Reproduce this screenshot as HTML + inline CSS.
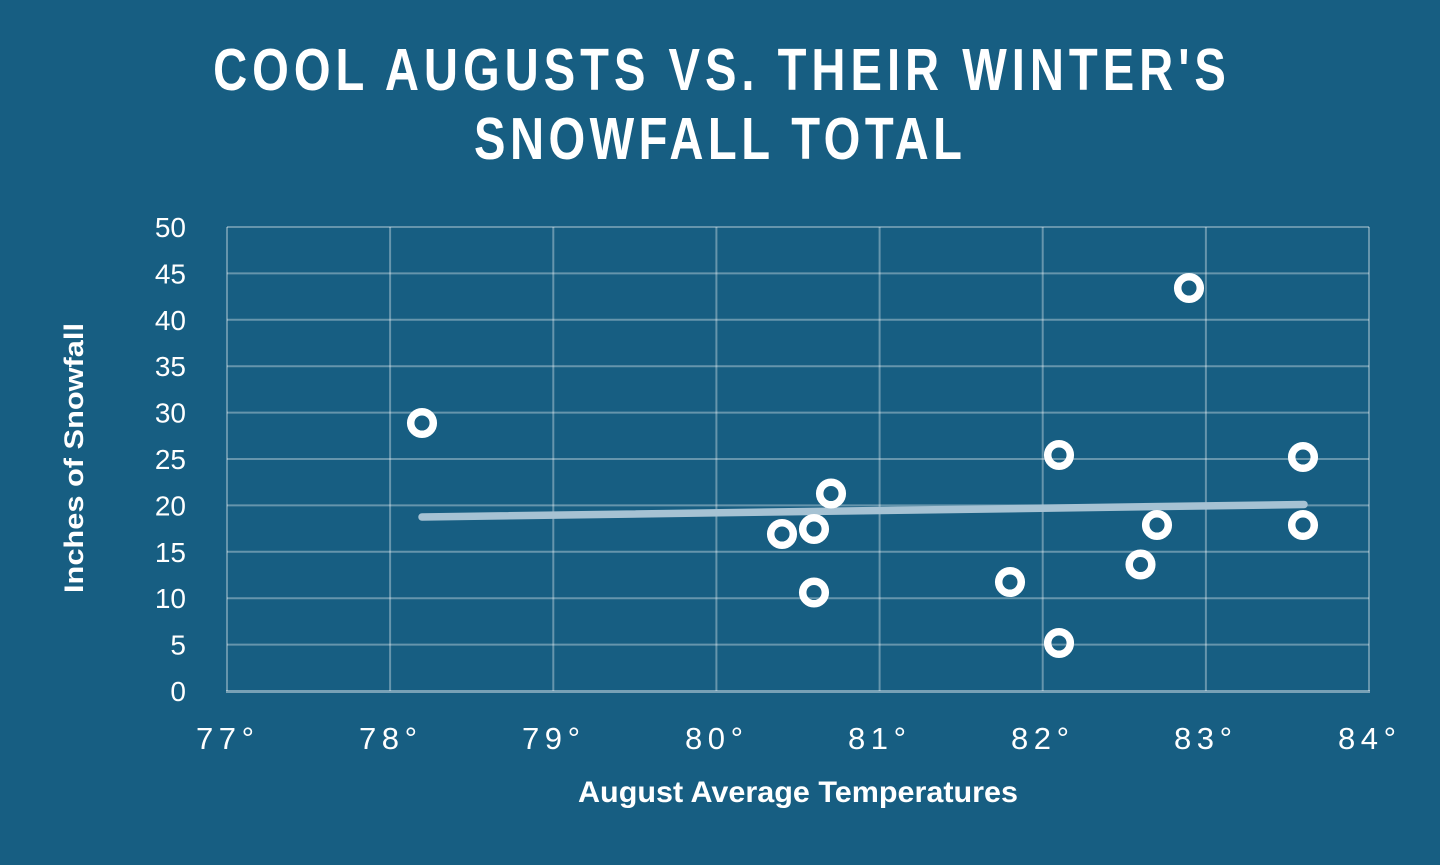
<!DOCTYPE html>
<html>
<head>
<meta charset="utf-8">
<style>
  html, body { margin: 0; padding: 0; background: #175e82; }
  body { width: 1440px; height: 865px; overflow: hidden; }
  svg { display: block; }
</style>
</head>
<body>
<svg width="1440" height="865" viewBox="0 0 1440 865" xmlns="http://www.w3.org/2000/svg">
  <rect x="0" y="0" width="1440" height="865" fill="#175e82"/>

  <!-- Title -->
  <g font-family="'Liberation Sans', Arial, sans-serif" font-weight="bold" fill="#ffffff" font-size="59" text-anchor="middle">
    <text transform="translate(719.5,90) scale(0.8,1)" x="0" y="0" textLength="1266" lengthAdjust="spacing">COOL AUGUSTS VS. THEIR WINTER'S</text>
    <text transform="translate(718,159) scale(0.8,1)" x="0" y="0" textLength="610" lengthAdjust="spacing">SNOWFALL TOTAL</text>
  </g>

  <!-- Gridlines -->
  <g stroke="#ffffff" stroke-opacity="0.34" stroke-width="2" fill="none">
    <line x1="227" y1="227" x2="1369" y2="227"/>
    <line x1="227" y1="273.4" x2="1369" y2="273.4"/>
    <line x1="227" y1="319.8" x2="1369" y2="319.8"/>
    <line x1="227" y1="366.2" x2="1369" y2="366.2"/>
    <line x1="227" y1="412.6" x2="1369" y2="412.6"/>
    <line x1="227" y1="459" x2="1369" y2="459"/>
    <line x1="227" y1="505.4" x2="1369" y2="505.4"/>
    <line x1="227" y1="551.8" x2="1369" y2="551.8"/>
    <line x1="227" y1="598.2" x2="1369" y2="598.2"/>
    <line x1="227" y1="644.6" x2="1369" y2="644.6"/>

    <line x1="227" y1="227" x2="227" y2="691"/>
    <line x1="390.1" y1="227" x2="390.1" y2="691"/>
    <line x1="553.3" y1="227" x2="553.3" y2="691"/>
    <line x1="716.4" y1="227" x2="716.4" y2="691"/>
    <line x1="879.6" y1="227" x2="879.6" y2="691"/>
    <line x1="1042.7" y1="227" x2="1042.7" y2="691"/>
    <line x1="1205.9" y1="227" x2="1205.9" y2="691"/>
    <line x1="1369" y1="227" x2="1369" y2="691"/>
  </g>
  <line x1="226" y1="691.5" x2="1370" y2="691.5" stroke="#ffffff" stroke-opacity="0.42" stroke-width="3"/>

  <!-- Y tick labels -->
  <g font-family="'Liberation Sans', Arial, sans-serif" fill="#ffffff" font-size="28" text-anchor="end">
    <text x="186" y="237">50</text>
    <text x="186" y="283.4">45</text>
    <text x="186" y="329.8">40</text>
    <text x="186" y="376.2">35</text>
    <text x="186" y="422.6">30</text>
    <text x="186" y="469">25</text>
    <text x="186" y="515.4">20</text>
    <text x="186" y="561.8">15</text>
    <text x="186" y="608.2">10</text>
    <text x="186" y="654.6">5</text>
    <text x="186" y="701">0</text>
  </g>

  <!-- X tick labels -->
  <g font-family="'Liberation Sans', Arial, sans-serif" fill="#ffffff" font-size="31" text-anchor="middle">
    <text x="225" y="749" textLength="58" lengthAdjust="spacing">77°</text>
    <text x="388" y="749" textLength="58" lengthAdjust="spacing">78°</text>
    <text x="551" y="749" textLength="58" lengthAdjust="spacing">79°</text>
    <text x="714" y="749" textLength="58" lengthAdjust="spacing">80°</text>
    <text x="877" y="749" textLength="58" lengthAdjust="spacing">81°</text>
    <text x="1040" y="749" textLength="58" lengthAdjust="spacing">82°</text>
    <text x="1203" y="749" textLength="58" lengthAdjust="spacing">83°</text>
    <text x="1367" y="749" textLength="58" lengthAdjust="spacing">84°</text>
  </g>

  <!-- Axis titles -->
  <text x="798" y="802" font-family="'Liberation Sans', Arial, sans-serif" font-weight="bold" fill="#ffffff" font-size="30" text-anchor="middle" textLength="440" lengthAdjust="spacingAndGlyphs">August Average Temperatures</text>
  <text transform="translate(83,458) rotate(-90)" x="0" y="0" font-family="'Liberation Sans', Arial, sans-serif" font-weight="bold" fill="#ffffff" font-size="27" text-anchor="middle" textLength="270" lengthAdjust="spacingAndGlyphs">Inches of Snowfall</text>

  <!-- Trend line -->
  <line x1="422" y1="517" x2="1304" y2="504.5" stroke="#a6c2d3" stroke-width="7.5" stroke-linecap="round"/>

  <!-- Data points -->
  <g fill="none" stroke="#ffffff" stroke-width="7.5">
    <circle cx="422" cy="423" r="11.3"/>
    <circle cx="782" cy="534" r="11.3"/>
    <circle cx="814" cy="529" r="11.3"/>
    <circle cx="831" cy="493.5" r="11.3"/>
    <circle cx="814" cy="592.5" r="11.3"/>
    <circle cx="1010" cy="582" r="11.3"/>
    <circle cx="1059" cy="455" r="11.3"/>
    <circle cx="1059" cy="643" r="11.3"/>
    <circle cx="1140.5" cy="564.5" r="11.3"/>
    <circle cx="1157" cy="525" r="11.3"/>
    <circle cx="1189" cy="288" r="11.3"/>
    <circle cx="1303" cy="457" r="11.3"/>
    <circle cx="1303" cy="525" r="11.3"/>
  </g>
</svg>
</body>
</html>
